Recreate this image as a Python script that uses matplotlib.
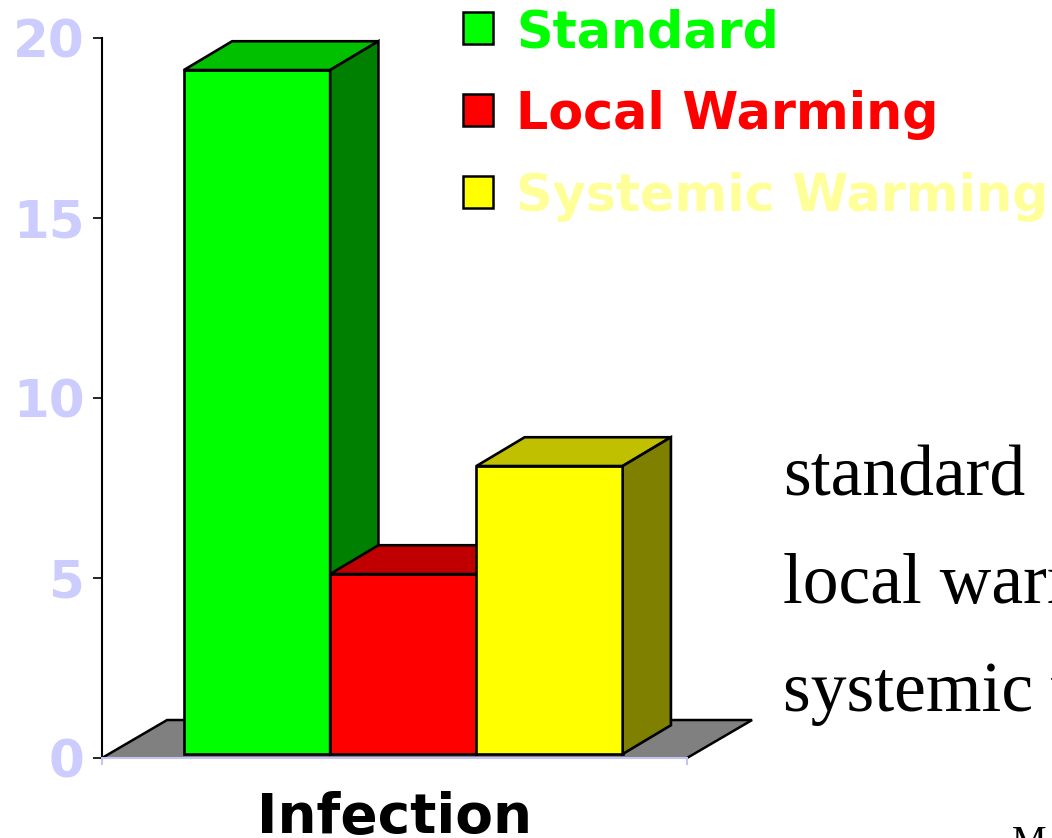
import matplotlib.pyplot as plt
from matplotlib.patches import Polygon, Rectangle

categories = ["Standard", "Local Warming", "Systemic Warming"]
values = [19, 5, 8]
front_colors = ["#00FF00", "#FF0000", "#FFFF00"]
top_colors = ["#00C000", "#C00000", "#C0C000"]
side_colors = ["#008000", "#800000", "#808000"]
label_colors = ["#00FF00", "#FF0000", "#FFFF99"]
group_label = "Infection"
notes = ["standard", "local warming", "systemic warming"]
y_ticks = [0, 5, 10, 15, 20]

LAVENDER = "#C4C4F4"
W, H = 1052, 838

fig = plt.figure(figsize=(W / 100, H / 100), dpi=100)
ax = fig.add_axes([102 / W, 80 / H, 585 / W, 720 / H])
ax.set_xlim(0, 4)
ax.set_ylim(0, 20)
ax.patch.set_visible(False)

# fake 3d: depth offsets of the floor and of the columns, in data units
floor_dx, floor_dy = 0.445, 1.055
bar_dx, bar_dy = 0.33, 0.8
bar_x0, bar_v0, bar_w = 0.56, 0.11, 1.0

# grey floor, front edge is left to the x axis line
floor = Polygon([(0, 0), (4, 0), (4 + floor_dx, floor_dy), (floor_dx, floor_dy)],
                closed=True, fc="#808080", ec="none", zorder=1, clip_on=False)
ax.add_patch(floor)
ax.plot([0, floor_dx, 4 + floor_dx, 4], [0, floor_dy, floor_dy, 0],
        color="black", lw=1.8, zorder=1.1, clip_on=False, solid_joinstyle="miter")

for i, val in enumerate(values):
    x = bar_x0 + i * bar_w
    top = bar_v0 + val
    front = [(x, bar_v0), (x + bar_w, bar_v0), (x + bar_w, top), (x, top)]
    lid = [(x, top), (x + bar_w, top), (x + bar_w + bar_dx, top + bar_dy), (x + bar_dx, top + bar_dy)]
    side = [(x + bar_w, bar_v0), (x + bar_w + bar_dx, bar_v0 + bar_dy),
            (x + bar_w + bar_dx, top + bar_dy), (x + bar_w, top)]
    for pts, col in ((front, front_colors[i]), (lid, top_colors[i]), (side, side_colors[i])):
        ax.add_patch(Polygon(pts, closed=True, fc=col, ec="black", lw=1.9,
                             zorder=2 + i * 0.1, clip_on=False, joinstyle="miter"))

for s in ("top", "right"):
    ax.spines[s].set_visible(False)
ax.spines["left"].set_color("black")
ax.spines["left"].set_linewidth(1.5)
ax.spines["bottom"].set_color(LAVENDER)
ax.spines["bottom"].set_linewidth(1.5)

ax.set_yticks(y_ticks)
ax.tick_params(axis="y", direction="out", length=6.5, width=1.2, color="black",
               pad=6, labelsize=37, labelcolor="#CCCCFF")
for lab in ax.get_yticklabels():
    lab.set_fontweight("bold")
ax.set_xticks([0, 4])
ax.set_xticklabels([])
ax.tick_params(axis="x", direction="out", length=5, width=1.5, color=LAVENDER)

ax.text(2.0, -0.104, group_label, transform=ax.get_xaxis_transform(),
        ha="center", va="baseline", fontsize=39.5, fontweight="bold", color="black")

# legend drawn by hand: boxes and coloured labels
for i, (name, fc, tc) in enumerate(zip(categories, front_colors, label_colors)):
    y_top = 12 + i * 82
    fig.add_artist(Rectangle((463 / W, (H - y_top - 32) / H), 30 / W, 32 / H,
                             transform=fig.transFigure, fc=fc, ec="black", lw=1.8))
    fig.text(516 / W, (H - 47 - i * 82) / H, name, color=tc, fontsize=36.5,
             fontweight="bold", va="baseline", ha="left")

for i, note in enumerate(notes):
    fig.text(783 / W, (H - 495 - i * 108) / H, note, family="Liberation Serif",
             fontsize=51.5, va="baseline", ha="left", color="black")
fig.text(1012 / W, (H - 853) / H, "M", family="Liberation Serif", fontsize=28,
         va="baseline", ha="left", color="black")

fig.savefig("out.png", dpi=100)
